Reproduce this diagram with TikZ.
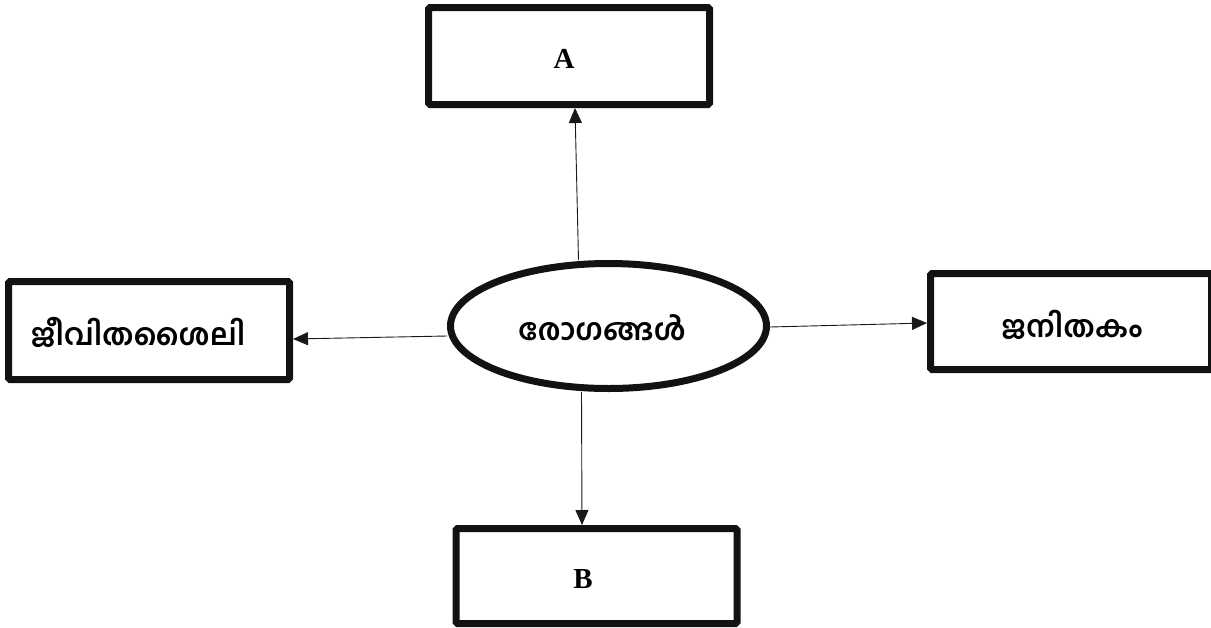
\documentclass[tikz,border=0pt]{standalone}
\usepackage{fontspec}
\setmainfont{Liberation Serif}
\newfontfamily\mlfont[Script=Malayalam]{Hind Kochi}
\usetikzlibrary{arrows.meta,shapes.geometric}
\tikzset{
  box/.style={draw=black!93, line width=7pt, rounded corners=1.5pt, minimum width=281pt, minimum height=97pt, inner sep=0pt},
  oval/.style={ellipse, draw=black!93, line width=7pt, minimum width=316pt, minimum height=125pt, inner sep=0pt},
  latin/.style={font=\fontsize{29}{33}\selectfont\bfseries, inner sep=0pt},
  mal/.style={font=\mlfont\fontsize{30}{34}\selectfont\bfseries, inner sep=0pt},
  arr/.style={line width=0.9pt, draw=black!90, -{Triangle[length=15pt,width=13pt]}}
}
\begin{document}
\begin{tikzpicture}[x=1pt,y=-1pt]
\useasboundingbox[fill=white] (0,0) rectangle (1211,627);
\node[box] (A) at (569,56) {};
\node[latin] (At) at (564,59) {A};
\node[box, minimum height=95pt] (B) at (596.5,576) {};
\node[latin] (Bt) at (583,579) {B};
\node[box, minimum height=98pt] (L) at (149,330.5) {};
\node[mal] (Lt) at (138,332) {ജീവിതശൈലി};
\node[box, minimum height=96pt] (R) at (1071,321.5) {};
\node[mal] (Rt) at (1072,325) {ജനിതകം};
\node[oval] (E) at (608.5,326) {};
\node[mal] (Et) at (602,328) {രോഗങ്ങൾ};
\draw[arr] ([xshift=-30pt]E.north) -- ([xshift=6pt]A.south);
\draw[arr] ([xshift=-27pt]E.south) -- ([xshift=-14.5pt]B.north);
\draw[arr] ([yshift=-10pt]E.west) -- ([yshift=-8.5pt]L.east);
\draw[arr] ([yshift=-1pt]E.east) -- ([yshift=-1.5pt]R.west);
\end{tikzpicture}
\end{document}
